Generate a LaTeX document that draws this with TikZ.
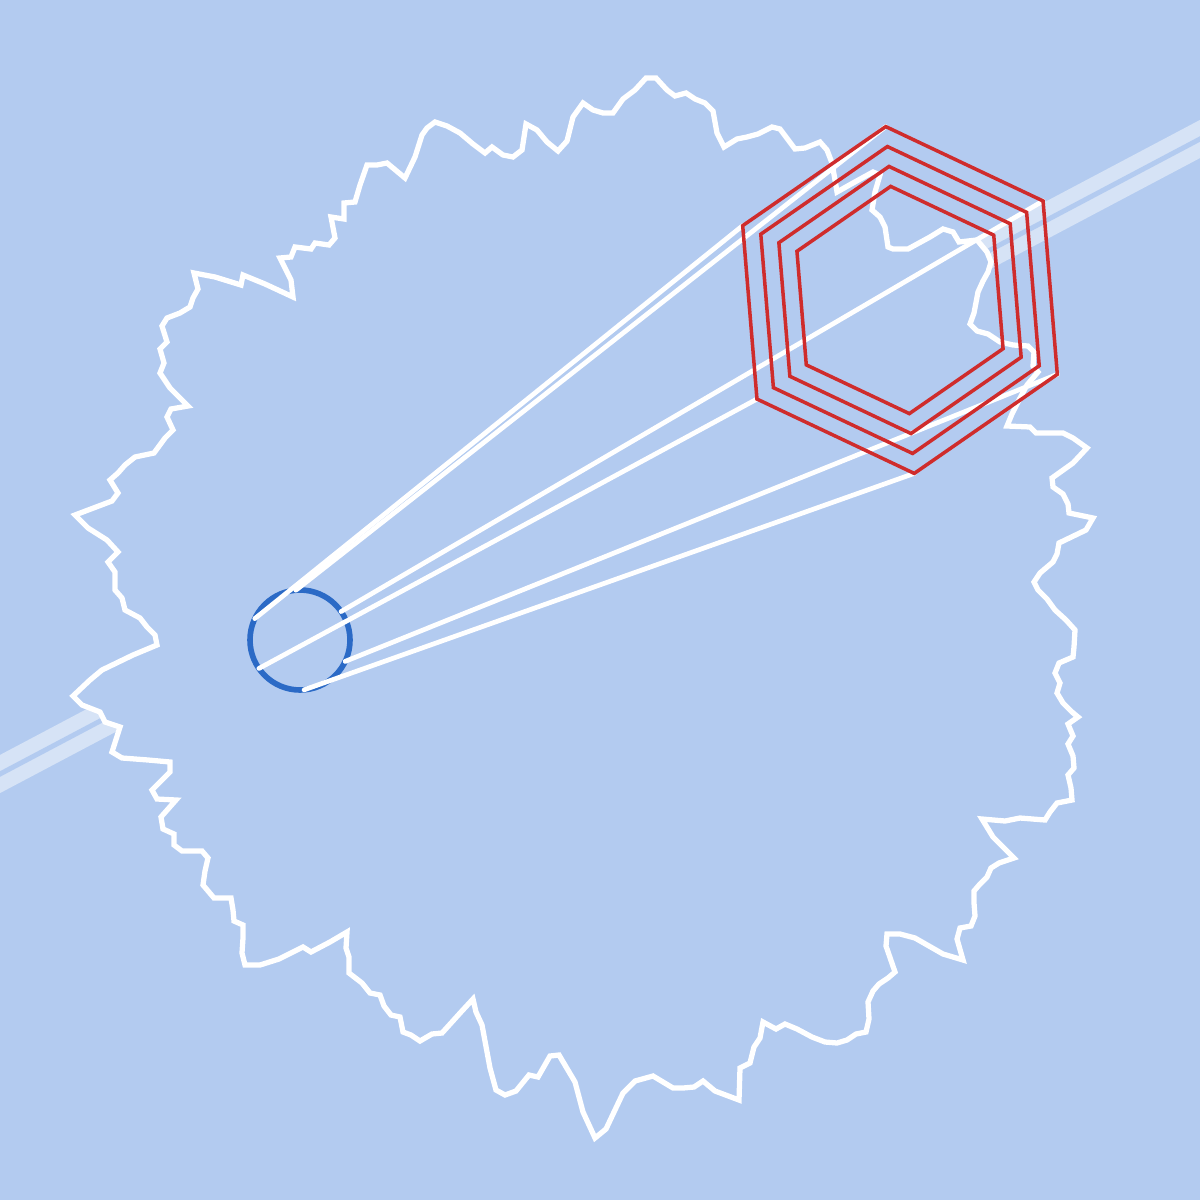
\documentclass[tikz,border=0pt]{standalone}
\usepackage{tikz}
\usetikzlibrary{calc}
\definecolor{zemin}{HTML}{B3CBF0}
\definecolor{bantRenk}{HTML}{D6E3F6}
\definecolor{kirmizi}{HTML}{CF2C2C}
\definecolor{halkaMavi}{HTML}{2B6AC6}

\begin{document}
\begin{tikzpicture}[x=0.1mm, y=-0.1mm,
  band/.style={draw=bantRenk, line width=4.1pt, double=zemin, double distance=1.4pt},
  outline/.style={draw=white, fill=zemin, line width=1.5pt, miter limit=4},
  ray/.style={draw=white, line width=1.35pt, line cap=round},
  hexline/.style={draw=kirmizi, line width=1pt},
  ring/.style={draw=halkaMavi, line width=1.6pt}]
\fill[zemin] (0,0) rectangle (1200,1200);
\useasboundingbox (0,0) rectangle (1200,1200);
\clip (0,0) rectangle (1200,1200);
\coordinate (ring) at (300,640);
\coordinate (hexc) at (900,300);
% light band behind the blob
\draw[band] (-20,784.6) -- (1220,128.4);
% jagged blob
\path[outline] (75,515) -- (112,501) -- (118,493) -- (110,480) -- (118,473) -- (125,465)
  -- (135,457) -- (154,453) -- (165,438) -- (173,430) -- (167,417) -- (171,409)
  -- (188,406) -- (170,388) -- (160,373) -- (164,363) -- (160,349) -- (167,342)
  -- (162,326) -- (167,318) -- (180,313) -- (190,307) -- (193,298) -- (198,289)
  -- (194,273) -- (215,277) -- (241,285) -- (243,275) -- (265,284) -- (293,297)
  -- (291,280) -- (280,258) -- (291,257) -- (295,247) -- (311,249) -- (315,243)
  -- (329,245) -- (335,238) -- (331,217) -- (344,219) -- (344,203) -- (355,202)
  -- (360,185) -- (367,165) -- (377,165) -- (387,163) -- (405,178) -- (415,157)
  -- (422,135) -- (427,128) -- (435,122) -- (447,126) -- (460,133) -- (473,144)
  -- (485,153) -- (492,147) -- (503,155) -- (513,157) -- (522,150) -- (526,124)
  -- (537,130) -- (547,142) -- (558,151) -- (567,141) -- (573,117) -- (583,103)
  -- (593,110) -- (603,113) -- (613,113) -- (623,99) -- (635,90) -- (646,78)
  -- (656,78) -- (667,90) -- (675,96) -- (686,93) -- (695,99) -- (705,103)
  -- (713,111) -- (717,133) -- (724,147) -- (737,139) -- (747,137) -- (758,134)
  -- (772,127) -- (780,129) -- (795,149) -- (805,148) -- (820,142) -- (827,150)
  -- (832,163) -- (835,180) -- (837,192) -- (853,183) -- (873,172) -- (880,175)
  -- (875,192) -- (872,210) -- (880,217) -- (885,227) -- (888,247) -- (893,249)
  -- (908,249) -- (930,237) -- (943,229) -- (953,232) -- (959,242) -- (977,240)
  -- (987,252) -- (991,262) -- (988,272) -- (983,281) -- (978,292) -- (974,313)
  -- (970,324) -- (977,331) -- (988,334) -- (1000,342) -- (1013,345) -- (1028,346)
  -- (1034,352) -- (1033,366) -- (1038,372) -- (1027,385) -- (1019,400) -- (1012,414)
  -- (1007,426) -- (1030,427) -- (1036,433) -- (1063,433) -- (1073,438) -- (1087,448)
  -- (1073,463) -- (1052,478) -- (1053,487) -- (1063,494) -- (1068,504) -- (1069,513)
  -- (1093,518) -- (1086,530) -- (1059,543) -- (1057,554) -- (1053,562) -- (1040,573)
  -- (1034,582) -- (1038,590) -- (1047,599) -- (1055,610) -- (1066,620) -- (1075,630)
  -- (1074,647) -- (1073,657) -- (1059,663) -- (1055,673) -- (1060,683) -- (1057,693)
  -- (1063,703) -- (1072,712) -- (1078,717) -- (1068,724) -- (1073,736) -- (1068,744)
  -- (1073,756) -- (1074,768) -- (1068,775) -- (1071,788) -- (1072,800) -- (1057,803)
  -- (1050,812) -- (1045,820) -- (1020,818) -- (1005,821) -- (982,819) -- (993,837)
  -- (1014,858) -- (999,863) -- (991,868) -- (987,877) -- (980,884) -- (974,891)
  -- (974,903) -- (975,916) -- (971,926) -- (960,928) -- (957,939) -- (963,960)
  -- (943,954) -- (915,938) -- (900,934) -- (887,934) -- (886,946) -- (895,972)
  -- (888,978) -- (879,984) -- (873,991) -- (868,1002) -- (869,1019) -- (866,1032)
  -- (856,1034) -- (847,1040) -- (837,1043) -- (825,1042) -- (812,1037) -- (797,1029)
  -- (785,1024) -- (776,1029) -- (763,1022) -- (760,1038) -- (754,1047) -- (750,1063)
  -- (740,1068) -- (739,1100) -- (715,1091) -- (703,1081) -- (694,1087) -- (683,1088)
  -- (673,1088) -- (653,1076) -- (635,1081) -- (623,1093) -- (606,1129) -- (595,1138)
  -- (583,1112) -- (575,1082) -- (559,1055) -- (550,1056) -- (538,1077) -- (529,1075)
  -- (516,1091) -- (505,1095) -- (496,1090) -- (490,1068) -- (482,1025) -- (476,1012)
  -- (473,999) -- (461,1012) -- (442,1033) -- (432,1034) -- (420,1041) -- (411,1035)
  -- (403,1032) -- (400,1017) -- (391,1015) -- (384,1006) -- (380,995) -- (370,993)
  -- (362,983) -- (349,973) -- (349,957) -- (346,948) -- (347,932) -- (330,942)
  -- (311,952) -- (303,947) -- (279,959) -- (260,965) -- (245,965) -- (242,953)
  -- (243,938) -- (243,925) -- (234,921) -- (233,910) -- (231,898) -- (214,898)
  -- (203,885) -- (205,871) -- (208,858) -- (202,851) -- (182,851) -- (174,845)
  -- (174,834) -- (163,829) -- (161,817) -- (176,800) -- (157,799) -- (152,790)
  -- (170,772) -- (170,762) -- (148,760) -- (122,758) -- (112,752) -- (120,727)
  -- (105,722) -- (100,712) -- (82,705) -- (73,696) -- (90,680) -- (102,670)
  -- (133,655) -- (157,645) -- (155,635) -- (147,627) -- (140,618) -- (125,610)
  -- (122,598) -- (115,590) -- (115,572) -- (108,562) -- (118,552) -- (107,540)
  -- (88,528) -- cycle;
% small ring and the rays to the outer hexagon
\draw[ring] (ring) circle[radius=50];
\foreach \k in {0,...,5} {
  \path (ring) ++({-94.7-60*\k}:50) coordinate (p\k);
  \path (hexc) ++({-94.7-60*\k}:174) coordinate (v\k);
}
\foreach \k in {0,...,5} \draw[ray] (p\k) -- (v\k);
% nested hexagons
\foreach \r in {174,154,134,114}
  \draw[hexline] ($(hexc)+(-94.7:\r)$)
    \foreach \j in {1,...,5} { -- ($(hexc)+({-94.7-60*\j}:\r)$) } -- cycle;
\end{tikzpicture}
\end{document}
